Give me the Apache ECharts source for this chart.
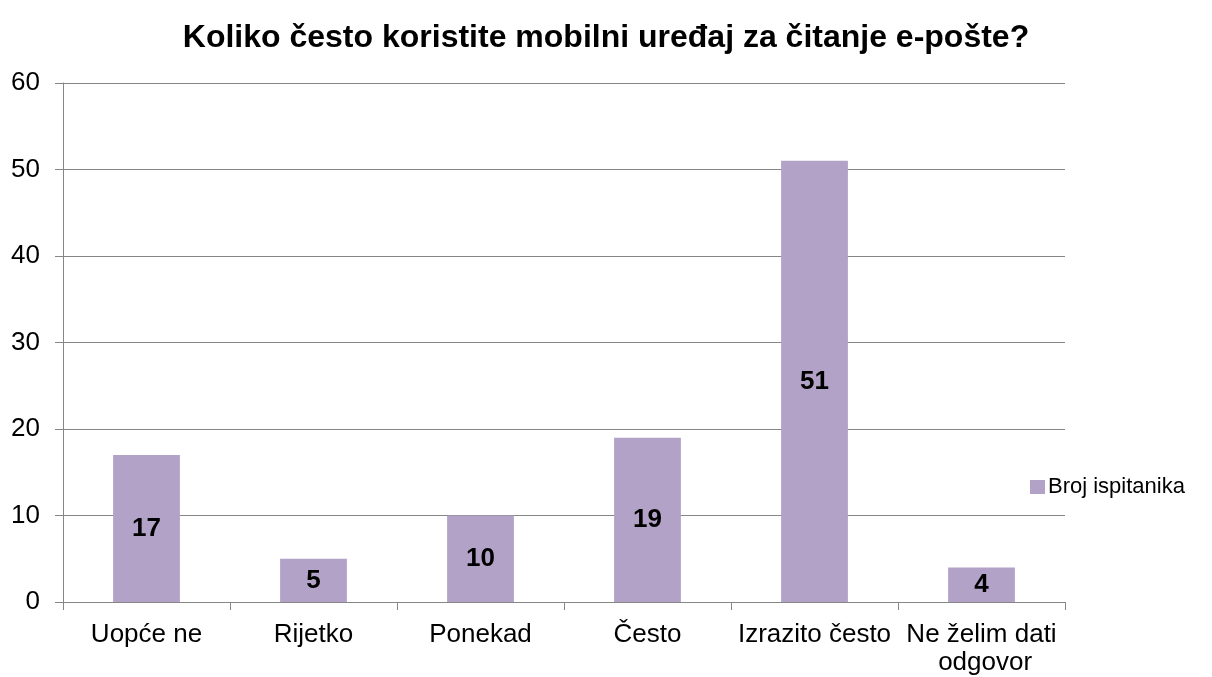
<!DOCTYPE html>
<html>
<head>
<meta charset="utf-8">
<script src="https://cdn.jsdelivr.net/npm/echarts@6/dist/echarts.min.js"></script>
<style>
  html, body { margin: 0; padding: 0; background: #fff; }
  #chart { width: 1212px; height: 677px; }
</style>
</head>
<body>
<div id="chart"></div>
<script>
var categories = ['Uopće ne', 'Rijetko', 'Ponekad', 'Često', 'Izrazito često', 'Ne želim dati odgovor'];
var counts = [17, 5, 10, 19, 51, 4];
var seriesName = 'Broj ispitanika';
var yTicks = { min: 0, max: 60, interval: 10 };

var chart = echarts.init(document.getElementById('chart'));
var font = 'Liberation Sans, Arial, sans-serif';
var axisGray = '#868686';

chart.setOption({
  animation: false,
  title: {
    text: 'Koliko često koristite mobilni uređaj za čitanje e-pošte?',
    left: 'center',
    top: 17,
    textStyle: { fontFamily: font, fontSize: 32, fontWeight: 'bold', color: '#000' }
  },
  legend: {
    data: [seriesName],
    left: 1025,
    top: 471,
    itemWidth: 15,
    itemHeight: 14,
    itemGap: 6,
    icon: 'rect',
    textStyle: { fontFamily: font, fontSize: 22, color: '#000', padding: [0, 0, 0, -2] }
  },
  grid: { left: 63, right: 147, top: 83, bottom: 74 },
  xAxis: {
    type: 'category',
    data: categories,
    axisLine: { lineStyle: { color: axisGray, width: 1 } },
    axisTick: { show: true, alignWithLabel: false, length: 8, lineStyle: { color: axisGray } },
    axisLabel: {
      fontFamily: font, fontSize: 26, color: '#000', margin: 19,
      lineHeight: 28, width: 167, overflow: 'break', interval: 0
    }
  },
  yAxis: {
    type: 'value',
    min: yTicks.min,
    max: yTicks.max,
    interval: yTicks.interval,
    axisLine: { show: true, lineStyle: { color: axisGray, width: 1 } },
    axisTick: { show: true, length: 8, lineStyle: { color: axisGray } },
    splitLine: { show: true, lineStyle: { color: axisGray, width: 1 } },
    axisLabel: { fontFamily: font, fontSize: 26, color: '#000', margin: 23 }
  },
  series: [{
    name: seriesName,
    type: 'bar',
    data: counts,
    barWidth: '40%',
    itemStyle: { color: '#B3A2C7' },
    label: {
      show: true,
      position: 'inside',
      fontFamily: font,
      fontSize: 26,
      fontWeight: 'bold',
      color: '#000'
    }
  }]
});
</script>
</body>
</html>
